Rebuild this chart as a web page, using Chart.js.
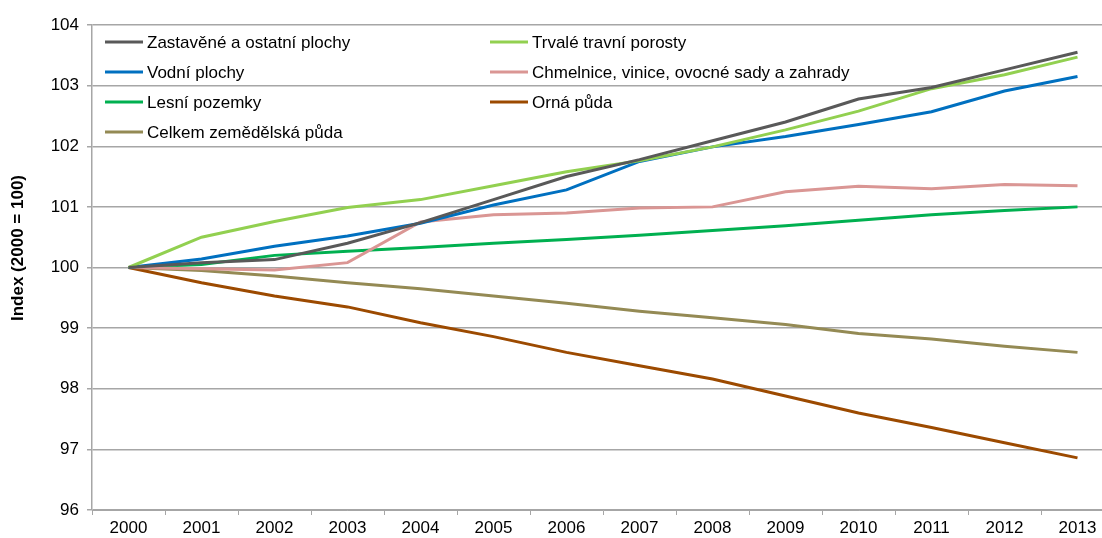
<!DOCTYPE html>
<html>
<head>
<meta charset="utf-8">
<script src="https://cdn.jsdelivr.net/npm/chart.js@4.4.1/dist/chart.umd.min.js"></script>
<style>
  html, body { margin: 0; padding: 0; background: #fff; overflow: hidden; }
  #wrap { width: 1114px; height: 538px; position: relative; }
</style>
</head>
<body>
<div id="wrap"><canvas id="myChart"></canvas></div>
<script>
const years = ["2000", "2001", "2002", "2003", "2004", "2005", "2006", "2007", "2008", "2009", "2010", "2011", "2012", "2013"];

const zastavene = [100, 100.08, 100.13, 100.4, 100.74, 101.12, 101.5, 101.78, 102.09, 102.4, 102.78, 102.97, 103.26, 103.55];
const trvale = [100, 100.5, 100.76, 100.99, 101.12, 101.35, 101.58, 101.76, 101.99, 102.27, 102.58, 102.95, 103.18, 103.47];
const vodni = [100, 100.14, 100.35, 100.52, 100.73, 101.03, 101.28, 101.75, 101.99, 102.16, 102.36, 102.57, 102.91, 103.15];
const chmelnice = [100, 99.98, 99.96, 100.08, 100.75, 100.87, 100.9, 100.98, 101.0, 101.25, 101.34, 101.3, 101.37, 101.35];
const lesni = [100, 100.05, 100.2, 100.27, 100.33, 100.4, 100.46, 100.53, 100.61, 100.69, 100.78, 100.87, 100.94, 101.0];
const orna = [100, 99.75, 99.53, 99.35, 99.09, 98.86, 98.6, 98.38, 98.16, 97.88, 97.6, 97.36, 97.11, 96.86];
const celkem = [100, 99.95, 99.86, 99.75, 99.65, 99.53, 99.41, 99.28, 99.17, 99.06, 98.91, 98.82, 98.7, 98.6];

const names = ["Zastavěné a ostatní plochy", "Trvalé travní porosty", "Vodní plochy", "Chmelnice, vinice, ovocné sady a zahrady", "Lesní pozemky", "Orná půda", "Celkem zemědělská půda"];
const colors = ["#595959", "#92D050", "#0070C0", "#DA9694", "#00B050", "#9C4A00", "#948A54"];
const series = [zastavene, trvale, vodni, chmelnice, lesni, orna, celkem];
const yTitle = "Index (2000 = 100)";

const font = "'Liberation Sans', Arial, sans-serif";

// legend in two columns inside the plot + y title a bit above centre
const extrasPlugin = {
  id: "extras",
  afterDraw(chart) {
    const ctx = chart.ctx;
    ctx.save();
    ctx.font = "17px " + font;
    ctx.textBaseline = "middle";
    chart.data.datasets.forEach((ds, i) => {
      const col = i % 2;
      const row = Math.floor(i / 2);
      const x = col === 0 ? 105 : 490;
      const y = 42 + row * 30;
      ctx.strokeStyle = ds.borderColor;
      ctx.lineWidth = 3;
      ctx.beginPath();
      ctx.moveTo(x, y);
      ctx.lineTo(x + 38, y);
      ctx.stroke();
      ctx.fillStyle = "#000";
      ctx.fillText(ds.label, x + 42, y + 1);
    });

    ctx.translate(18, 248);
    ctx.rotate(-Math.PI / 2);
    ctx.font = "bold 17px " + font;
    ctx.textAlign = "center";
    ctx.fillText(yTitle, 0, 0);
    ctx.restore();
  },
};

new Chart("myChart", {
  type: "line",
  data: {
    labels: years,
    datasets: series.map((s, i) => ({
      label: names[i],
      data: s,
      borderColor: colors[i],
      backgroundColor: colors[i],
      borderWidth: 3,
      pointRadius: 0,
      tension: 0,
    })),
  },
  options: {
    responsive: true,
    maintainAspectRatio: false,
    animation: false,
    layout: { padding: { top: 25, right: 0, left: 0, bottom: 0 } },
    plugins: {
      legend: { display: false },
      tooltip: { enabled: false },
    },
    scales: {
      x: {
        offset: true,
        grid: {
          offset: true,
          drawOnChartArea: false,
          drawTicks: true,
          tickLength: 5,
          color: "#A6A6A6",
        },
        border: { color: "#A6A6A6", width: 1 },
        ticks: { color: "#000", font: { family: font, size: 17 }, padding: 3, maxRotation: 0 },
        afterFit: (s) => { s.height = 28; },
      },
      y: {
        min: 96,
        max: 104,
        ticks: { stepSize: 1, color: "#000", font: { family: font, size: 17 }, padding: 8 },
        grid: { color: "#A6A6A6", lineWidth: 1.5, tickLength: 5 },
        border: { color: "#A6A6A6", width: 1.5 },
        afterFit: (s) => { s.width = 92; },
      },
    },
  },
  plugins: [extrasPlugin],
});
</script>
</body>
</html>
